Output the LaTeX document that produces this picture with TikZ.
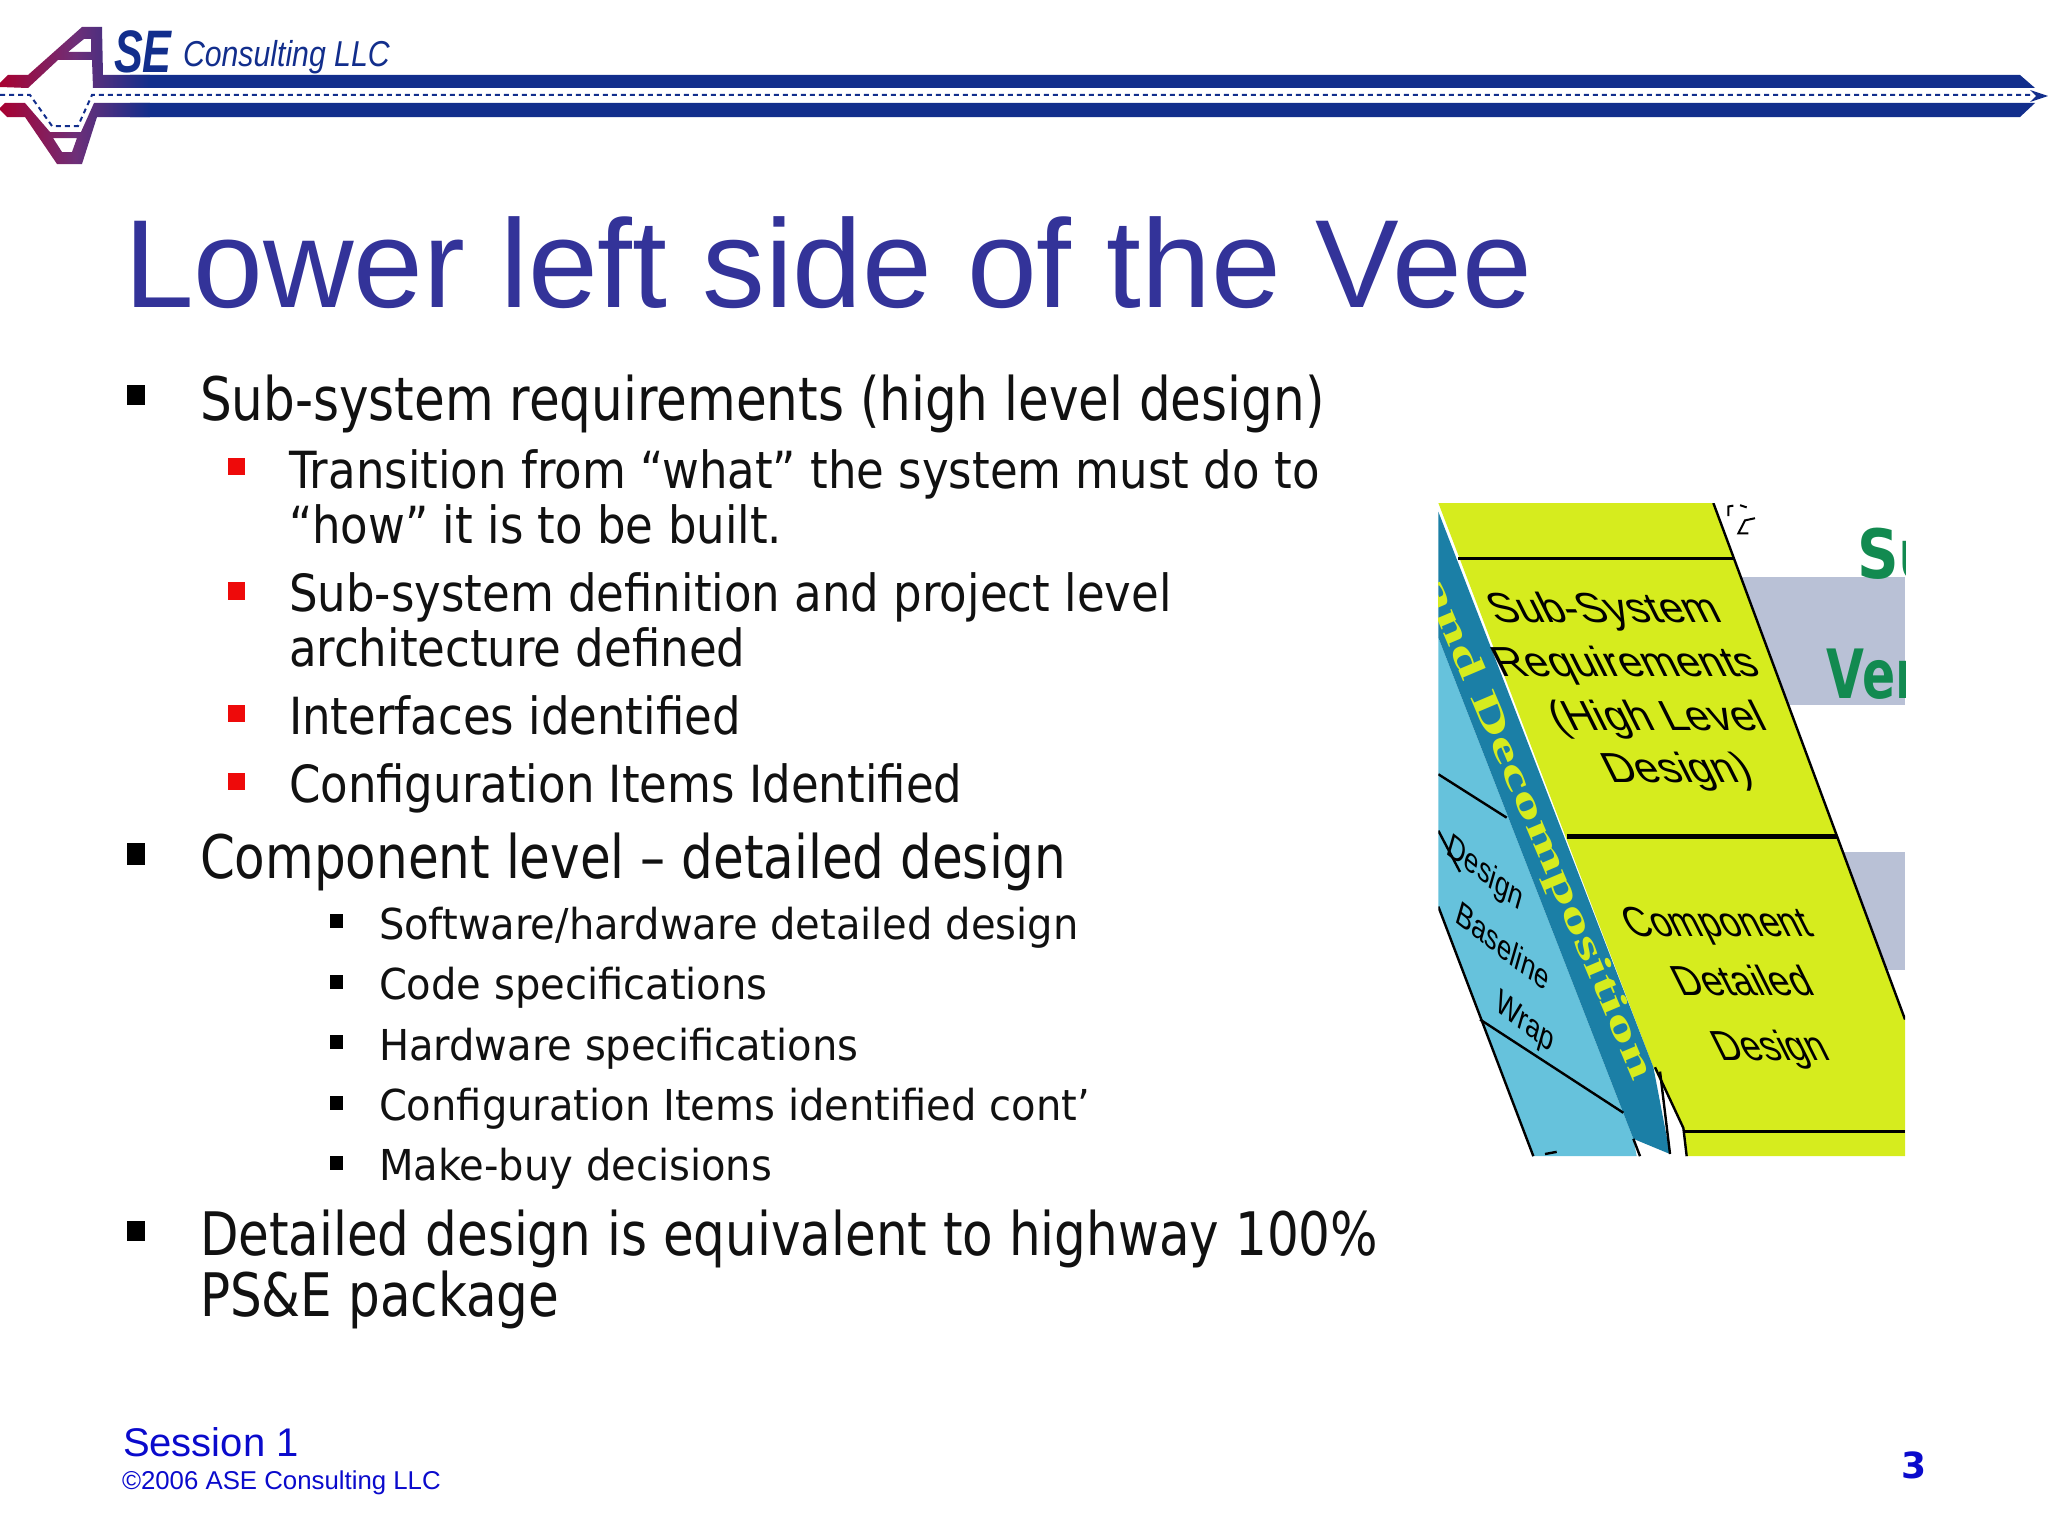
\documentclass[tikz,border=0pt]{standalone}
\usepackage{fontspec}
\setmainfont{Liberation Sans}
\newfontfamily\tahA[FakeStretch=0.833]{DejaVu Sans}
\newfontfamily\tahB[FakeStretch=0.88]{DejaVu Sans}
\newfontfamily\tahC[FakeStretch=0.94]{DejaVu Sans}
\newfontfamily\dvb{DejaVu Sans}
\newfontfamily\serifb{Liberation Serif}
\definecolor{titleblue}{HTML}{333399}
\definecolor{barblue}{HTML}{122E8C}
\definecolor{maroon}{HTML}{A80030}
\definecolor{logomid}{HTML}{6E2F78}
\definecolor{inkblack}{HTML}{111111}
\definecolor{footblue}{HTML}{0A0ACC}
\definecolor{bullred}{HTML}{EE0A0A}
\definecolor{vyellow}{HTML}{D6EC1E}
\definecolor{vband}{HTML}{1B7FA6}
\definecolor{vlight}{HTML}{66C2DC}
\definecolor{vgrey}{HTML}{B9C1D6}
\definecolor{vgreen}{HTML}{128A50}
\tikzset{
  txt/.style={anchor=base west,inner sep=0pt,outer sep=0pt,text=inkblack},
  lone/.style={txt,font=\tahA\fontsize{30}{36}\selectfont},
  ltwo/.style={txt,font=\tahB\fontsize{25.6}{30}\selectfont},
  lthree/.style={txt,font=\tahC\fontsize{21.3}{26}\selectfont},
  vee/.style={inner sep=0pt,outer sep=0pt,transform shape,xslant=-0.5,text=black,font=\fontsize{21}{24}\selectfont},
  veesmall/.style={inner sep=0pt,outer sep=0pt,transform shape,rotate=-38,xslant=-0.4,text=black,font=\fontsize{15}{18}\selectfont},
  blone/.style={fill=black},
  bltwo/.style={fill=bullred},
  blthree/.style={fill=black},
  edge/.style={draw=black,line width=1.2pt},
}
\begin{document}
\begin{tikzpicture}[x=0.5pt,y=-0.5pt]
\useasboundingbox (0,0) rectangle (2048,1536);
% --- logo bars
\fill[barblue] (130,75) -- (2020,75) -- (2035,88) -- (130,88) -- cycle;
\fill[barblue] (130,103) -- (2035,103) -- (2020,117) -- (130,117) -- cycle;
\begin{scope}[even odd rule]
 \clip (0,87) -- (0,83) -- (8,75) -- (28,75) -- (82,27) -- (102,27) -- (103,75) -- (150,75) -- (150,88) -- (93,88) -- (92,60) -- (58,60) -- (28,88) -- cycle
   (68,52) -- (91,52) -- (91,39) -- (84,39) -- cycle;
 \shade[left color=maroon,right color=barblue,middle color=logomid] (0,20) rectangle (150,100);
\end{scope}
\begin{scope}[even odd rule]
 \clip (0,108) -- (5,103) -- (25,103) -- (50,132) -- (81,132) -- (94,103) -- (150,103) -- (150,117) -- (97,117) -- (82,164) -- (57,164) -- (25,117) -- (7,117) -- (0,110) -- cycle
   (53,138) -- (77,138) -- (72,152) -- (62,152) -- cycle;
 \shade[left color=maroon,right color=barblue,middle color=logomid] (0,95) rectangle (150,170);
\end{scope}
\draw[barblue,line width=1pt,dash pattern=on 2.5pt off 2pt] (0,95) -- (30,95) -- (52,126) -- (78,126) -- (92,95) -- (2030,95);
\fill[barblue] (2030,90) -- (2048,96) -- (2030,102) -- (2036,96) -- cycle;
\node[txt,text=barblue,font=\bfseries\itshape\fontsize{30}{30}\selectfont,xscale=0.72] (logoSE) at (114,73) {SE};
\node[txt,text=barblue,font=\itshape\fontsize{18}{20}\selectfont,xscale=0.84] (logoname) at (183,67) {Consulting LLC};
% --- title
\node[txt,text=titleblue,font=\fontsize{62.7}{63}\selectfont] (title) at (124,307) {Lower left side of the Vee};
% --- bullets
\fill[blone] (127,385) rectangle (145,405);
\fill[bltwo] (228,458) rectangle (245,475);
\fill[bltwo] (228,582) rectangle (245,600);
\fill[bltwo] (228,705) rectangle (245,722);
\fill[bltwo] (228,773) rectangle (245,790);
\fill[blone] (127,843) rectangle (145,865);
\fill[blthree] (330,914) rectangle (343,928);
\fill[blthree] (330,975) rectangle (343,989);
\fill[blthree] (330,1035) rectangle (343,1049);
\fill[blthree] (330,1096) rectangle (343,1110);
\fill[blthree] (330,1156) rectangle (343,1170);
\fill[blone] (127,1221) rectangle (145,1241);
% --- body text
\node[lone] (t1) at (200,420) {Sub-system requirements (high level design)};
\node[ltwo] (t2) at (289,488) {Transition from “what” the system must do to};
\node[ltwo] (t3) at (289,543) {“how” it is to be built.};
\node[ltwo] (t4) at (289,611) {Sub-system definition and project level};
\node[ltwo] (t5) at (289,666) {architecture defined};
\node[ltwo] (t6) at (289,734) {Interfaces identified};
\node[ltwo] (t7) at (289,802) {Configuration Items Identified};
\node[lone] (t8) at (200,878) {Component level – detailed design};
\node[lthree] (t9) at (379,939) {Software/hardware detailed design};
\node[lthree] (t10) at (379,999) {Code specifications};
\node[lthree] (t11) at (379,1060) {Hardware specifications};
\node[lthree] (t12) at (379,1120) {Configuration Items identified cont’};
\node[lthree] (t13) at (379,1180) {Make-buy decisions};
\node[lone] (t14) at (200,1255) {Detailed design is equivalent to highway 100\%};
\node[lone] (t15) at (200,1316) {PS\&E package};
% --- footer
\node[txt,text=footblue,font=\fontsize{20}{20}\selectfont] (sess) at (123,1456) {Session 1};
\node[txt,text=footblue,font=\fontsize{12.9}{14}\selectfont] (copy) at (122,1489) {©2006 ASE Consulting LLC};
\node[anchor=base,inner sep=0pt,text=footblue,font=\dvb\bfseries\fontsize{18}{18}\selectfont] (pnum) at (1914,1478) {3};
% --- Vee picture, in crop coordinates
\begin{scope}[shift={(1420,490)},x=0.16667pt,y=-0.217pt]
 \clip (55,30) rectangle (1455,1535);
 \fill[vgrey] (900,200) rectangle (1455,495);
 \fill[vgrey] (1200,835) rectangle (1455,1105);
 \fill[vyellow] (55,30) -- (880,30) -- (1455,1220) -- (1455,1535) -- (800,1535) -- (790,1470) -- (700,1330) -- (120,160) -- cycle;
 \fill[vlight] (55,340) -- (640,1495) -- (650,1535) -- (340,1535) -- (55,960) -- cycle;
 \fill[vband] (55,50) -- (700,1330) -- (750,1530) -- (640,1495) -- (55,340) -- cycle;
 \draw[edge] (880,30) -- (1455,1220);
 \draw[edge] (705,1330) -- (790,1470) -- (800,1535);
 \draw[edge] (720,1340) -- (750,1530);
 \draw[edge] (55,960) -- (340,1535);
 \draw[edge] (55,655) -- (260,755);
 \draw[edge] (55,785) -- (120,880);
 \draw[edge] (180,1220) -- (610,1435);
 \draw[edge] (640,1495) -- (660,1535);
 \draw[edge] (375,1530) -- (410,1525);
 \draw[black,line width=1.5pt] (115,158) -- (945,158);
 \draw[black,line width=2.5pt] (440,798) -- (1250,798);
 \draw[black,line width=1.5pt] (790,1478) -- (1455,1478);
 \draw[black,line width=1pt] (925,60) -- (925,38) -- (940,36) (960,35) -- (980,40) (1005,65) -- (975,70) -- (955,100) -- (985,100);
 \node[vee] (v1) at (555,280) {Sub-System};
 \node[vee] (v2) at (620,405) {Requirements};
 \node[vee] (v3) at (715,530) {(High Level};
 \node[vee] (v4) at (775,650) {Design)};
 \node[vee,xscale=0.85] (v5) at (895,1005) {Component};
 \node[vee,xscale=0.88] (v6) at (965,1130) {Detailed};
 \node[vee,xscale=0.85] (v7) at (1055,1290) {Design};
 \node[veesmall] (v8) at (195,885) {Design};
 \node[veesmall] (v9) at (250,1050) {Baseline};
 \node[veesmall] (v10) at (315,1230) {Wrap};
 \node[inner sep=0pt,transform shape,rotate=-67,xscale=1.5,yscale=0.85,text=vyellow,font=\serifb\bfseries\fontsize{22}{22}\selectfont] (v11) at (350,782) {and Decomposition};
 \node[anchor=base west,inner sep=0pt,text=vgreen,font=\dvb\bfseries\fontsize{34}{34}\selectfont,transform shape,xscale=0.85] (v12) at (1310,205) {Su};
 \node[anchor=base west,inner sep=0pt,text=vgreen,font=\dvb\bfseries\fontsize{34}{34}\selectfont,transform shape,xscale=0.72] (v13) at (1220,480) {Ver};
\end{scope}
\end{tikzpicture}
\end{document}
